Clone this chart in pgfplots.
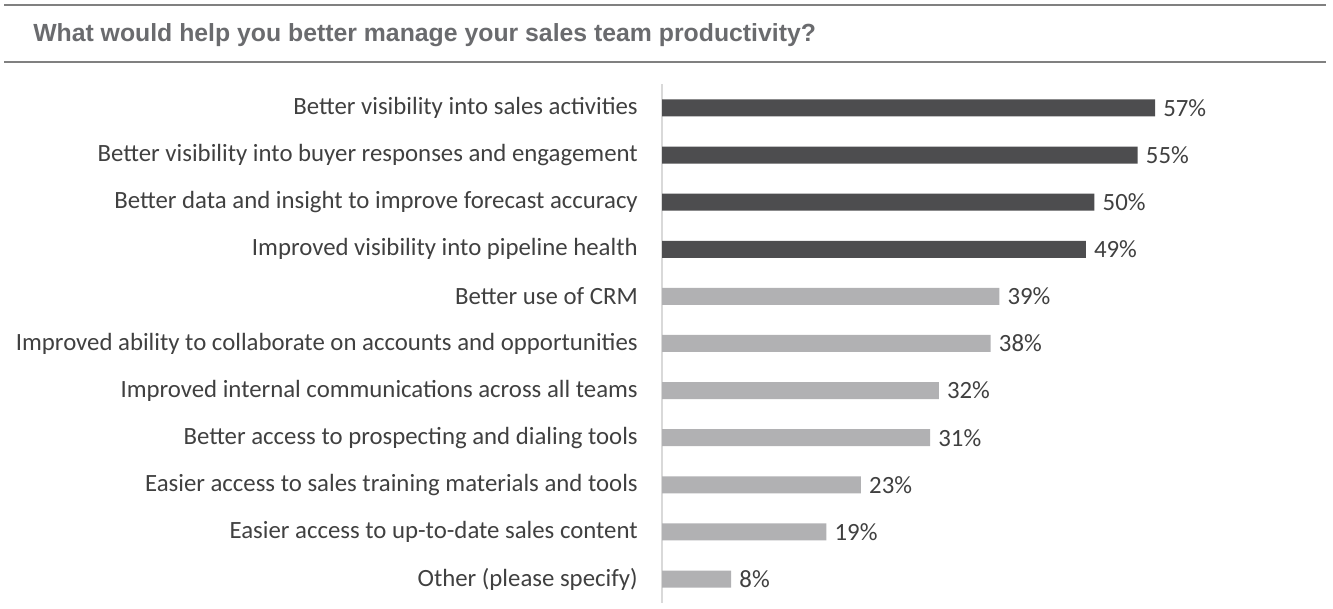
\documentclass[border=0pt]{standalone}
\usepackage{pgfplots}
\pgfplotsset{compat=1.18}
\usepackage{fontspec}
\setmainfont{Carlito}
\newfontfamily\titlefont{Liberation Sans}
\definecolor{darkbar}{HTML}{4D4D4F}
\definecolor{lightbar}{HTML}{B1B1B3}
\definecolor{labeltext}{HTML}{404040}
\definecolor{titletext}{HTML}{6A6B6E}
\definecolor{rule}{HTML}{808080}

\pgfplotstableread{
val pos
57 0
55 1
50 2
49 3
}\topfour
\pgfplotstableread{
val pos
39 4
38 5
32 6
31 7
23 8
19 9
8 10
}\others

\begin{document}
\begin{tikzpicture}
\begin{scope}[x=0.75pt,y=-0.75pt]
\path (0,0) rectangle (1333,608);
\draw[rule, line width=1.4pt] (4,5) -- (1326,5);
\draw[rule, line width=1.4pt] (4,62) -- (1326,62);
\node[anchor=west, inner sep=0pt, text=titletext, font=\titlefont\bfseries\fontsize{18.6}{22}\selectfont] at (33,35) {What would help you better manage your sales team productivity?};
\end{scope}
\begin{axis}[
    at={(496.5pt,-451.9pt)}, anchor=south west,
    scale only axis,
    width=369.75pt, height=388.6pt,
    xmin=0, xmax=57,
    ymin=-0.5, ymax=10.5,
    y dir=reverse,
    enlargelimits=false,
    clip=false,
    axis x line=none,
    axis y line=left,
    y axis line style={-, draw=black!15, line width=0.8pt},
    ytick={0,...,10},
    major tick length=0pt,
    yticklabels={
        Better visibility into sales activities,
        Better visibility into buyer responses and engagement,
        Better data and insight to improve forecast accuracy,
        Improved visibility into pipeline health,
        Better use of CRM,
        Improved ability to collaborate on accounts and opportunities,
        Improved internal communications across all teams,
        Better access to prospecting and dialing tools,
        Easier access to sales training materials and tools,
        Easier access to up-to-date sales content,
        Other (please specify)},
    yticklabel style={anchor=east, inner sep=0pt, xshift=-18pt, text=labeltext, font=\fontsize{18.6}{22}\selectfont},
    xbar, bar width=12.75pt, bar shift=0pt,
    /pgf/number format/assume math mode=true,
    nodes near coords={\pgfmathprintnumber{\pgfplotspointmeta}\%},
    nodes near coords style={anchor=west, inner sep=0pt, xshift=6pt, text=labeltext, font=\fontsize{18.6}{22}\selectfont},
    point meta=x,
]
\addplot[draw=none, fill=darkbar] table[x=val, y=pos] {\topfour};
\addplot[draw=none, fill=lightbar] table[x=val, y=pos] {\others};
\end{axis}
\end{tikzpicture}
\end{document}
